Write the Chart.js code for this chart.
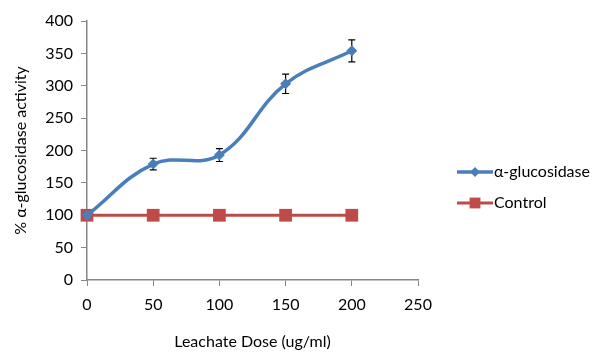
<!DOCTYPE html>
<html>
<head>
<meta charset="utf-8">
<script src="https://cdn.jsdelivr.net/npm/chart.js@4.4.0/dist/chart.umd.min.js"></script>
<style>
  html, body { margin: 0; padding: 0; background: #fff; }
  #wrap { width: 600px; height: 363px; }
</style>
</head>
<body>
<div id="wrap"><canvas id="chart_glucosidase"></canvas></div>
<script>
// data
var doses = [0, 50, 100, 150, 200];
var glucosidase = [100, 179, 193, 303, 354];
var glucosidaseErr = [0, 9, 10, 15, 17];
var control = [100, 100, 100, 100, 100];
var seriesNames = ['α-glucosidase', 'Control'];

var FONT = 'Lato, "Open Sans", sans-serif';
var AXIS = '#868686';
var BLUE = '#4A7EBB';
var RED = '#BE4B48';

function points(ys) {
    return doses.map(function(x, i) { return { x: x, y: ys[i] }; });
}

var errorBars = {
    id: 'errorBars',
    beforeDatasetsDraw: function(chart) {
        var ctx = chart.ctx;
        var xs = chart.scales.x, ys = chart.scales.y;
        ctx.save();
        ctx.strokeStyle = '#000';
        ctx.lineWidth = 1.2;
        glucosidase.forEach(function(v, i) {
            var e = glucosidaseErr[i];
            if (!e) return;
            var px = xs.getPixelForValue(doses[i]);
            var top = ys.getPixelForValue(v + e);
            var bot = ys.getPixelForValue(v - e);
            ctx.beginPath();
            ctx.moveTo(px, top); ctx.lineTo(px, bot);
            ctx.moveTo(px - 3.5, top); ctx.lineTo(px + 3.5, top);
            ctx.moveTo(px - 3.5, bot); ctx.lineTo(px + 3.5, bot);
            ctx.stroke();
        });
        ctx.restore();
    }
};

var sideLegend = {
    id: 'sideLegend',
    afterDraw: function(chart) {
        var ctx = chart.ctx;
        var items = chart.data.datasets;
        ctx.save();
        ctx.font = '16px ' + FONT;
        ctx.textBaseline = 'middle';
        items.forEach(function(ds, i) {
            var y = 172 + i * 31;
            ctx.strokeStyle = ds.borderColor;
            ctx.lineWidth = ds.borderWidth;
            ctx.beginPath();
            ctx.moveTo(457, y); ctx.lineTo(493, y);
            ctx.stroke();
            ctx.fillStyle = ds.pointBackgroundColor;
            ctx.beginPath();
            if (ds.pointStyle === 'rect') {
                var s = ds.pointRadius * 0.85 / Math.SQRT2;
                ctx.fillRect(475 - s, y - s, 2 * s, 2 * s);
            } else {
                var r = ds.pointRadius * 0.9;
                ctx.moveTo(475, y - r); ctx.lineTo(475 + r, y);
                ctx.lineTo(475, y + r); ctx.lineTo(475 - r, y);
                ctx.closePath(); ctx.fill();
            }
            ctx.fillStyle = '#000';
            ctx.fillText(seriesNames[i], 494, y);
        });
        ctx.restore();
    }
};

var chart_glucosidase = new Chart(document.getElementById('chart_glucosidase'), {
    type: 'line',
    data: {
        datasets: [
            {
                label: seriesNames[0],
                data: points(glucosidase),
                borderColor: BLUE,
                backgroundColor: BLUE,
                pointBackgroundColor: BLUE,
                pointBorderColor: BLUE,
                pointStyle: 'rectRot',
                pointRadius: 5.5,
                pointBorderWidth: 0,
                borderWidth: 3.5,
                tension: 0.4,
                clip: false,
                order: 1
            },
            {
                label: seriesNames[1],
                data: points(control),
                borderColor: RED,
                backgroundColor: RED,
                pointBackgroundColor: RED,
                pointBorderColor: RED,
                pointStyle: 'rect',
                pointRadius: 9,
                pointBorderWidth: 0,
                borderWidth: 3,
                tension: 0,
                clip: false,
                order: 2
            }
        ]
    },
    options: {
        animation: false,
        responsive: true,
        maintainAspectRatio: false,
        layout: { padding: { top: 21, right: 182, left: 0, bottom: 0 } },
        plugins: {
            legend: { display: false },
            tooltip: { enabled: false }
        },
        scales: {
            x: {
                type: 'linear',
                min: 0,
                max: 250,
                afterFit: function(scale) { scale.height = 83; },
                ticks: { stepSize: 50, color: '#000', padding: 9, font: { family: FONT, size: 16 } },
                grid: { drawOnChartArea: false, drawTicks: true, tickLength: 6, color: AXIS },
                border: { color: AXIS, width: 1.5 },
                title: {
                    display: true,
                    text: 'Leachate Dose (ug/ml)',
                    color: '#000',
                    font: { family: FONT, size: 16 },
                    padding: { top: 0, bottom: 12 }
                }
            },
            y: {
                type: 'linear',
                min: 0,
                max: 400,
                afterFit: function(scale) { scale.width = 87; },
                ticks: { stepSize: 50, color: '#000', padding: 8, font: { family: FONT, size: 16 } },
                grid: { drawOnChartArea: false, drawTicks: true, tickLength: 6, color: AXIS },
                border: { color: AXIS, width: 1.5 },
                title: {
                    display: true,
                    text: '% α-glucosidase activity',
                    color: '#000',
                    font: { family: FONT, size: 16 },
                    padding: { top: 11, bottom: 0 }
                }
            }
        }
    },
    plugins: [errorBars, sideLegend, {
        id: 'customPlugin',
        beforeDraw: function(chart) {
            var ctx = chart.canvas.getContext('2d');
            ctx.save();
            ctx.globalCompositeOperation = 'destination-over';
            ctx.fillStyle = 'white';
            ctx.fillRect(0, 0, chart.canvas.width, chart.canvas.height);
            ctx.restore();
        }
    }]
});
</script>
</body>
</html>
